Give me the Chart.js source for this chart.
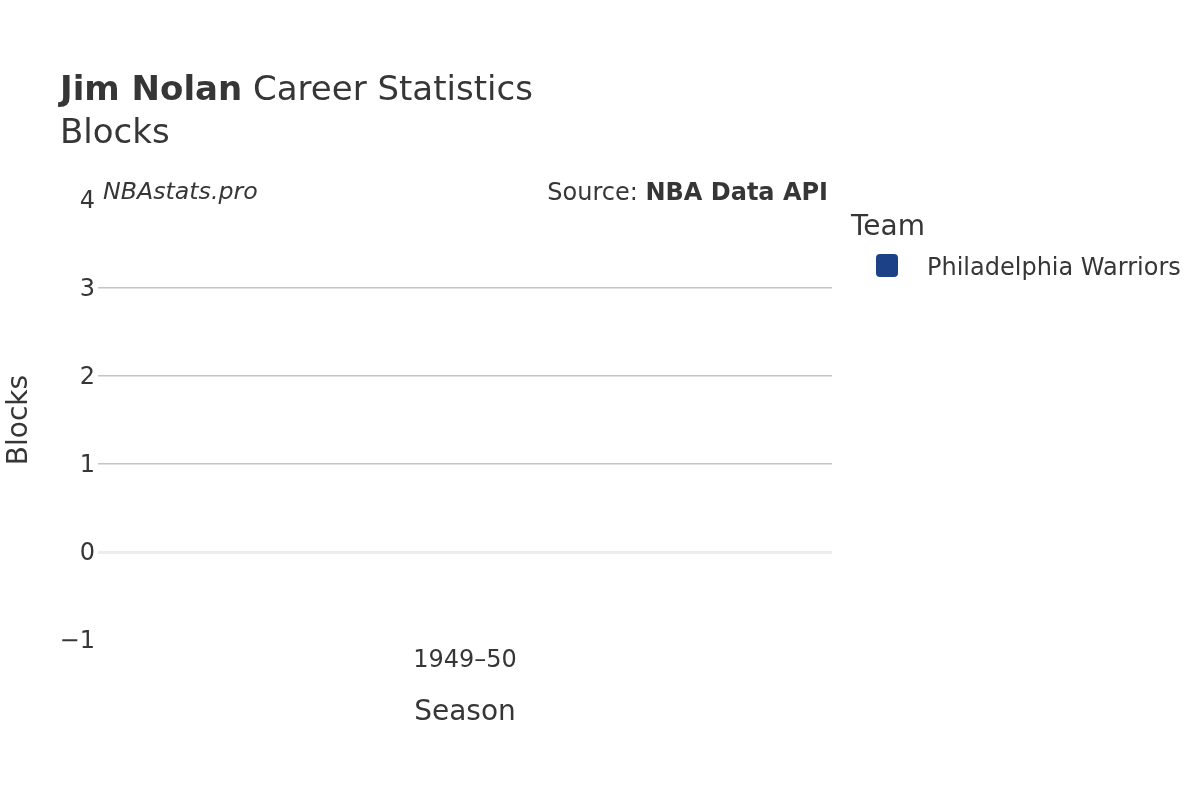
<!DOCTYPE html>
<html>
<head>
<meta charset="utf-8">
<script src="https://cdn.jsdelivr.net/npm/chart.js@4"></script>
<style>
  html, body { margin: 0; padding: 0; background: #fff; }
  #wrap { position: relative; width: 1200px; height: 800px; font-family: "DejaVu Sans", sans-serif; color: #363636; }
  #wrap canvas { position: absolute; left: 0; top: 0; }
  .t { position: absolute; white-space: nowrap; line-height: 1; }
</style>
</head>
<body>
<div id="wrap">
  <canvas id="c" width="1200" height="800"></canvas>
  <div class="t" style="left:60px; top:71px; font-size:34px;"><b>Jim Nolan</b> Career Statistics</div>
  <div class="t" style="left:60px; top:114px; font-size:34px;">Blocks</div>
  <div class="t" style="left:103px; top:180px; font-size:23.7px; font-style:italic;">NBAstats.pro</div>
  <div class="t" style="right:372px; top:180px; font-size:24px;">Source: <b>NBA Data API</b></div>
  <div class="t" style="left:851px; top:212px; font-size:28px;">Team</div>
  <div style="position:absolute; left:876px; top:254px; width:22px; height:23px; border-radius:4px; background:#1c4186;"></div>
  <div class="t" style="left:927px; top:255px; font-size:24px;">Philadelphia Warriors</div>
</div>
<script>
const seasons = ["1949\u201350"];
const teamName = "Philadelphia Warriors";
const blocks = [0];
const yTicks = [-1, 0, 1, 2, 3, 4];

const textColor = '#363636';
new Chart(document.getElementById('c'), {
  type: 'bar',
  data: {
    labels: seasons,
    datasets: [{ label: teamName, data: blocks, backgroundColor: '#1c4186' }]
  },
  options: {
    responsive: false,
    animation: false,
    layout: { padding: { left: 0, top: 200, right: 368, bottom: 0 } },
    plugins: { legend: { display: false }, tooltip: { enabled: false } },
    scales: {
      x: {
        offset: true,
        grid: { display: false, drawTicks: false },
        border: { display: false },
        ticks: { color: textColor, font: { family: 'DejaVu Sans', size: 24 }, padding: 6, maxRotation: 0 },
        title: { display: true, text: 'Season', color: textColor, font: { family: 'DejaVu Sans', size: 28 }, padding: { top: 0, bottom: 70 } },
        afterFit: s => { s.height = 160; }
      },
      y: {
        min: yTicks[0],
        max: yTicks[yTicks.length - 1],
        afterBuildTicks: s => { s.ticks = yTicks.map(v => ({ value: v })); },
        grid: {
          drawTicks: false,
          color: c => (c.tick && c.tick.value === 0) ? '#ececec' : ((c.tick && (c.tick.value === yTicks[0] || c.tick.value === yTicks[yTicks.length-1])) ? 'rgba(0,0,0,0)' : '#c4c4c4'),
          lineWidth: c => (c.tick && c.tick.value === 0) ? 3 : 1.5
        },
        border: { display: false },
        ticks: {
          color: textColor, font: { family: 'DejaVu Sans', size: 24 }, padding: 3, labelOffset: 2,
          callback: v => String(v).replace('-', '\u2212')
        },
        title: { display: true, text: 'Blocks', color: textColor, font: { family: 'DejaVu Sans', size: 28 }, padding: { top: 3, bottom: 0 } },
        afterFit: s => { s.width = 98; }
      }
    }
  }
});
</script>
</body>
</html>
